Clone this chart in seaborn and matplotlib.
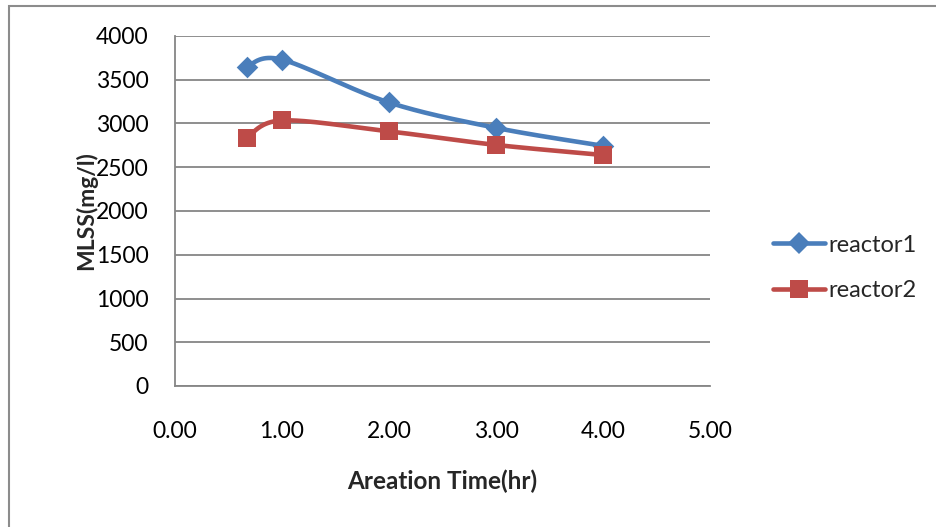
import numpy as np
import pandas as pd
import matplotlib
matplotlib.use("Agg")
import matplotlib.pyplot as plt
import seaborn as sns
from matplotlib.patches import Rectangle
from matplotlib.lines import Line2D

# ---- data ----
time_hr = [0.67, 1.00, 2.00, 3.00, 4.00]
reactor1 = [3650, 3730, 3240, 2950, 2745]
reactor2 = [2835, 3035, 2910, 2755, 2640]
series_names = ["reactor1", "reactor2"]
x_ticks = [0, 1, 2, 3, 4, 5]
y_ticks = [0, 500, 1000, 1500, 2000, 2500, 3000, 3500, 4000]

sns.set_theme(style="white")
plt.rcParams["font.family"] = ["Lato", "DejaVu Sans"]

colors = {"reactor1": "#4A7EBB", "reactor2": "#BE4B48"}
markers = {"reactor1": "D", "reactor2": "s"}
msize = {"reactor1": 11, "reactor2": 12.5}


def smooth(x, y, n=40):
    """Excel-like Catmull-Rom (Bezier) smoothing through the data points."""
    x = np.asarray(x, float)
    y = np.asarray(y, float)
    px = np.concatenate([[x[0]], x, [x[-1]]])
    py = np.concatenate([[y[0]], y, [y[-1]]])
    xs, ys = [], []
    for i in range(1, len(px) - 2):
        p0 = np.array([px[i - 1], py[i - 1]])
        p1 = np.array([px[i], py[i]])
        p2 = np.array([px[i + 1], py[i + 1]])
        p3 = np.array([px[i + 2], py[i + 2]])
        c1 = p1 + (p2 - p0) / 6.0
        c2 = p2 - (p3 - p1) / 6.0
        t = np.linspace(0, 1, n)[:, None]
        b = ((1 - t) ** 3) * p1 + 3 * ((1 - t) ** 2) * t * c1 + 3 * (1 - t) * t ** 2 * c2 + t ** 3 * p2
        xs.append(b[:, 0])
        ys.append(b[:, 1])
    return np.concatenate(xs), np.concatenate(ys)


fig = plt.figure(figsize=(9.36, 5.27), dpi=100)
ax = fig.add_axes([175 / 936, 1 - 386 / 527, (710 - 175) / 936, (386 - 36) / 527])

for name, vals in zip(series_names, [reactor1, reactor2]):
    sx, sy = smooth(time_hr, vals)
    ax.plot(sx, sy, color=colors[name], lw=3.3, solid_capstyle="round", zorder=3)
    df = pd.DataFrame({"x": time_hr, "y": vals})
    sns.scatterplot(data=df, x="x", y="y", ax=ax, marker=markers[name],
                    s=msize[name] ** 2, color=colors[name], edgecolor=colors[name],
                    linewidth=0, zorder=4, legend=False)

ax.set_xlim(0, 5)
ax.set_ylim(0, 4000)
ax.set_xticks(x_ticks)
ax.set_xticklabels([f"{v:.2f}" for v in x_ticks])
ax.set_yticks(y_ticks)
ax.set_yticklabels([str(v) for v in y_ticks])
ax.tick_params(axis="x", length=0, pad=25, labelsize=16.5, colors="black")
ax.tick_params(axis="y", length=0, pad=19, labelsize=16.5, colors="black")
ax.grid(axis="y", color="#868686", lw=1.3)
ax.set_axisbelow(True)
for side in ["top", "right"]:
    ax.spines[side].set_visible(False)
for side in ["left", "bottom"]:
    ax.spines[side].set_color("#868686")
    ax.spines[side].set_linewidth(1.3)

ax.set_xlabel("Areation Time(hr)", fontsize=17.5, fontweight="bold", labelpad=20)
ax.set_ylabel("MLSS(mg/l)", fontsize=16.5, fontweight="bold", va="center")
ax.yaxis.set_label_coords(-(175 - 86) / 535, 0.5)

# legend
handles = [Line2D([0], [0], color=colors[n], lw=3.3, marker=markers[n],
                  markersize=msize[n], markeredgewidth=0) for n in series_names]
fig.legend(handles, series_names, loc="center left",
           bbox_to_anchor=(761 / 936, 1 - 268 / 527), frameon=False,
           fontsize=17, handlelength=2.2, handletextpad=0.15, labelspacing=1.05,
           borderpad=0)

# outer chart border
fig.patches.append(Rectangle((9 / 936, -0.05), 1.2, 1 - 6 / 527 + 0.05,
                             transform=fig.transFigure, fill=False,
                             edgecolor="#8c8c8c", lw=1.5))

fig.savefig("out.png", dpi=100, facecolor="white")
